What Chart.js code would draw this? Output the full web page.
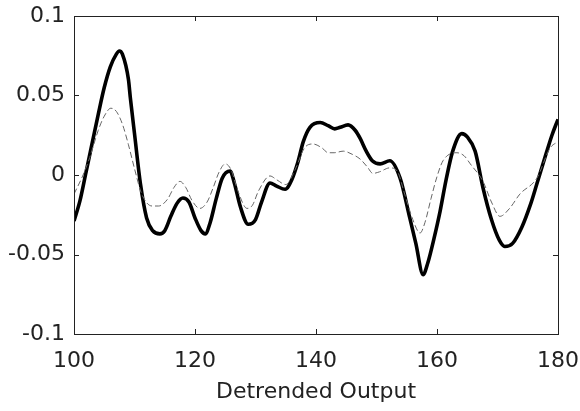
<!DOCTYPE html>
<html>
<head>
<meta charset="utf-8">
<script src="https://cdn.jsdelivr.net/npm/chart.js@4.4.1/dist/chart.umd.min.js"></script>
<style>
  html, body { margin: 0; padding: 0; background: #fff; }
  #wrap { width: 580px; height: 411px; }
</style>
</head>
<body>
<div id="wrap"><canvas id="c" width="580" height="411"></canvas></div>
<script>
// Sample positions and values of the two detrended output traces
const thickX = [100, 101, 102, 103, 104, 105, 106, 107, 107.5, 108, 109, 109.3, 110, 111, 112, 113, 114.2, 115, 116, 117, 118, 119, 120, 121, 121.7, 122.5, 123.5, 124.5, 125.8, 126.5, 127.5, 128.8, 130, 131, 132.4, 133.5, 134.9, 136, 137, 137.9, 139, 140.7, 142, 143.1, 144, 145.3, 146.5, 147.3, 148.3, 149.3, 150.6, 152.2, 153.9, 155.5, 156.5, 157.7, 158.5, 159.5, 160.5, 161.5, 162.6, 164.1, 165, 166.3, 167.6, 169, 170.3, 171.2, 172.5, 174, 175.5, 176.5, 178, 179, 180];
const thickY = [-0.029, -0.016, 0.002, 0.020, 0.038, 0.055, 0.068, 0.076, 0.078, 0.076, 0.060, 0.049, 0.026, -0.006, -0.027, -0.035, -0.037, -0.035, -0.026, -0.018, -0.0145, -0.017, -0.027, -0.035, -0.037, -0.030, -0.015, -0.002, 0.0025, -0.005, -0.020, -0.031, -0.028, -0.017, -0.005, -0.007, -0.009, -0.003, 0.008, 0.021, 0.030, 0.033, 0.031, 0.029, 0.030, 0.0315, 0.028, 0.023, 0.015, 0.009, 0.007, 0.009, -0.002, -0.027, -0.043, -0.0627, -0.055, -0.040, -0.023, -0.003, 0.015, 0.026, 0.024, 0.015, -0.008, -0.028, -0.041, -0.045, -0.043, -0.033, -0.018, -0.0057, 0.013, 0.025, 0.035];

const thinX = [100, 101.5, 102.6, 104, 105, 106.1, 107, 108, 109, 110, 111.2, 112.9, 114, 115.5, 116.5, 117.5, 118.5, 119.5, 120.8, 122, 123, 124, 125, 126, 127, 128.6, 129.5, 130.5, 132.4, 133.5, 135, 136.5, 138.1, 139.5, 141, 142, 143, 144.5, 146, 147.3, 148.5, 149.4, 150.5, 152.2, 153.5, 154.5, 156, 157.2, 158, 159, 160, 161, 163.3, 164.5, 165.5, 167.6, 169, 170.4, 172, 173.7, 176.5, 178.7, 180];
const thinY = [-0.012, 0.000, 0.011, 0.028, 0.037, 0.042, 0.040, 0.032, 0.019, 0.004, -0.012, -0.0195, -0.0195, -0.015, -0.008, -0.004, -0.008, -0.016, -0.021, -0.017, -0.008, 0.002, 0.007, 0.003, -0.009, -0.021, -0.019, -0.010, -0.0006, -0.003, -0.006, 0.003, 0.017, 0.0195, 0.017, 0.014, 0.014, 0.015, 0.013, 0.010, 0.005, 0.001, 0.002, 0.0045, 0.002, -0.010, -0.028, -0.0365, -0.030, -0.015, -0.001, 0.009, 0.014, 0.012, 0.007, -0.004, -0.017, -0.026, -0.021, -0.012, -0.002, 0.017, 0.021];

// Axis ticks
const xTicks = [100, 120, 140, 160, 180];
const yTicks = [-0.1, -0.05, 0, 0.05, 0.1];
const xLabel = 'Detrended Output';

const toPoints = (xs, ys) => xs.map((x, i) => ({ x: x, y: ys[i] }));

const FONT = 'DejaVu Sans';
const INK = '#222';

// Box frame with short inward ticks on all four sides
const framePlugin = {
  id: 'frame',
  afterDraw(chart) {
    const { ctx, chartArea: a, scales } = chart;
    ctx.save();
    ctx.strokeStyle = INK;
    ctx.lineWidth = 1;
    ctx.strokeRect(Math.round(a.left) + 0.5, Math.round(a.top) + 0.5,
                   Math.round(a.right - a.left), Math.round(a.bottom - a.top));
    const len = 5;
    ctx.beginPath();
    xTicks.forEach(v => {
      const px = Math.round(scales.x.getPixelForValue(v)) + 0.5;
      ctx.moveTo(px, a.bottom); ctx.lineTo(px, a.bottom - len);
      ctx.moveTo(px, a.top); ctx.lineTo(px, a.top + len);
    });
    yTicks.forEach(v => {
      const py = Math.round(scales.y.getPixelForValue(v)) + 0.5;
      ctx.moveTo(a.left, py); ctx.lineTo(a.left + len, py);
      ctx.moveTo(a.right, py); ctx.lineTo(a.right - len, py);
    });
    ctx.stroke();
    ctx.restore();
  }
};

new Chart(document.getElementById('c'), {
  type: 'line',
  data: {
    datasets: [
      {
        data: toPoints(thinX, thinY),
        borderColor: '#666',
        borderWidth: 1,
        borderDash: [6, 3],
        pointRadius: 0,
        cubicInterpolationMode: 'monotone',
        fill: false,
        order: 1
      },
      {
        data: toPoints(thickX, thickY),
        borderColor: '#000',
        borderWidth: 3.6,
        pointRadius: 0,
        cubicInterpolationMode: 'monotone',
        fill: false,
        order: 2
      }
    ]
  },
  options: {
    responsive: false,
    devicePixelRatio: 1,
    animation: false,
    events: [],
    layout: { padding: { top: 16, right: 22, left: 0, bottom: 0 } },
    plugins: { legend: { display: false }, tooltip: { enabled: false } },
    scales: {
      x: {
        type: 'linear',
        min: 100, max: 180,
        afterFit(s) { s.height = 77; s.paddingLeft = 0; s.paddingRight = 0; },
        afterBuildTicks(s) { s.ticks = xTicks.map(v => ({ value: v })); },
        grid: { display: false, drawTicks: false },
        border: { display: false },
        ticks: {
          padding: 14,
          color: INK,
          font: { family: FONT, size: 22 },
          maxRotation: 0,
          callback: v => String(v)
        },
        title: {
          display: true,
          text: xLabel,
          color: INK,
          font: { family: FONT, size: 22 },
          padding: { top: 0, bottom: 6 }
        }
      },
      y: {
        type: 'linear',
        min: -0.1, max: 0.1,
        afterFit(s) { s.width = 74; s.paddingTop = 0; s.paddingBottom = 0; },
        afterBuildTicks(s) { s.ticks = yTicks.map(v => ({ value: v })); },
        grid: { display: false, drawTicks: false },
        border: { display: false },
        ticks: {
          padding: 9,
          color: INK,
          font: { family: FONT, size: 22 },
          callback: v => String(Math.round(v * 100) / 100)
        }
      }
    }
  },
  plugins: [framePlugin]
});
</script>
</body>
</html>
